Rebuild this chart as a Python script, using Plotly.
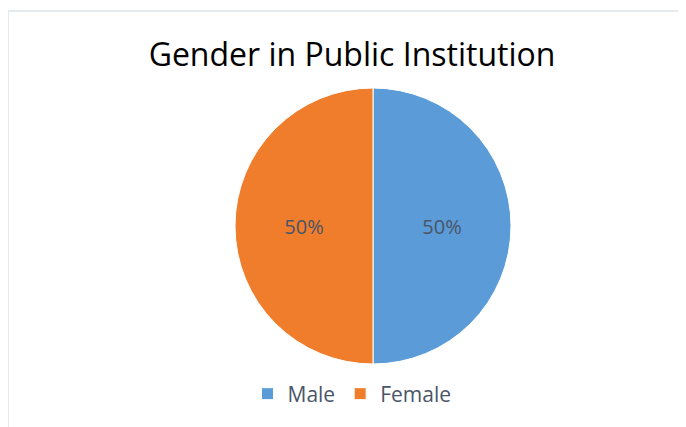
import plotly.graph_objects as go

labels = ["Male", "Female"]
values = [50, 50]
colors = ["#5A9BD8", "#F07D2C"]

W, H = 686, 427
OX, OY = 8, 8  # page body margin offset


def px(x):
    return (x - OX) / W


def py(y):
    return 1 - (y - OY) / H


fig = go.Figure(go.Pie(
    labels=labels,
    values=values,
    sort=False,
    direction="clockwise",
    rotation=0,
    marker=dict(colors=colors, line=dict(color="#FFFFFF", width=1)),
    textinfo="percent",
    texttemplate="%{percent:.0%}",
    textposition="inside",
    insidetextorientation="horizontal",
    textfont=dict(family="Open Sans", size=20, color="#4A5568"),
    domain=dict(x=[px(235), px(511)], y=[py(364), py(88)]),
    hoverinfo="label+percent",
))

fig.update_layout(
    width=W, height=H,
    margin=dict(l=0, r=0, t=0, b=0),
    paper_bgcolor="white",
    title=dict(text="Gender in Public Institution", x=px(352), xanchor="center",
               y=py(55), yanchor="middle",
               font=dict(family="Open Sans", size=32, color="#000000")),
    showlegend=True,
    legend=dict(orientation="h", x=px(352), xanchor="center", y=py(394), yanchor="middle",
                font=dict(family="Open Sans", size=21, color="#4A5568"),
                itemwidth=30, traceorder="normal"),
    shapes=[
        dict(type="line", xref="paper", yref="paper", x0=px(8), x1=1, y0=py(11), y1=py(11),
             line=dict(color="#DDE3EA", width=1.5)),
        dict(type="line", xref="paper", yref="paper", x0=px(8), x1=px(8), y0=0, y1=py(11),
             line=dict(color="#DDE3EA", width=1.5)),
    ],
)

fig.write_html("out.html")
